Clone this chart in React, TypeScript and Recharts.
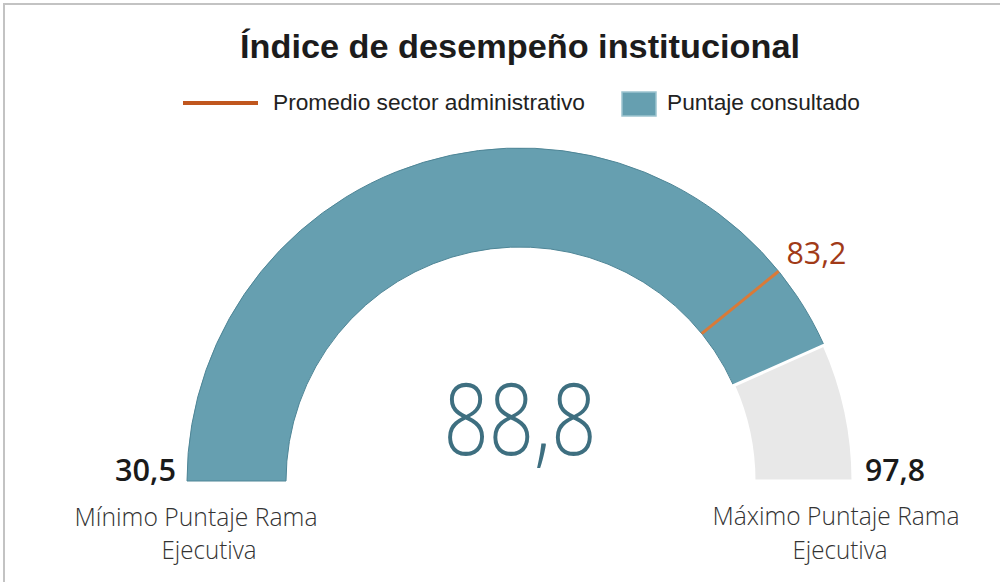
import { PieChart, Pie, Cell } from "recharts";

// gauge range and values
const minScore = 30.5;
const maxScore = 97.8;
const scores = [88.8]; // Puntaje consultado
const averages = [83.2]; // Promedio sector administrativo
const rangeLabels = ["Mínimo Puntaje Rama", "Máximo Puntaje Rama"];
const rangeSubLabel = "Ejecutiva";
const legendNames = ["Promedio sector administrativo", "Puntaje consultado"];
const title = "Índice de desempeño institucional";

const CX = 520;
const CY = 481;
const INNER = 234;
const OUTER = 333;
const RAD = Math.PI / 180;

const fmt = (v: number) => v.toFixed(1).replace(".", ",");

const gaugeData = [
  { name: legendNames[1], value: scores[0] - minScore },
  { name: "resto", value: maxScore - scores[0] },
];

const markerData = [
  { name: "below", value: averages[0] - minScore },
  { name: "above", value: maxScore - averages[0] },
];

const renderMarker = (props: any) => {
  if (props.index !== 1) return null;
  const { cx, cy, innerRadius, outerRadius, startAngle } = props;
  const c = Math.cos(-startAngle * RAD);
  const s = Math.sin(-startAngle * RAD);
  const lr = outerRadius + 10;
  return (
    <g>
      <line
        x1={cx + innerRadius * c}
        y1={cy + innerRadius * s}
        x2={cx + outerRadius * c}
        y2={cy + outerRadius * s}
        stroke="#d97a38"
        strokeWidth={3}
      />
      <text
        x={cx + lr * c}
        y={cy + lr * s - 1}
        fill="#a13a18"
        fontSize={31}
        fontFamily="'Open Sans', 'Noto Sans', sans-serif"
        textAnchor="start"
        textLength={60}
        lengthAdjust="spacingAndGlyphs"
      >
        {fmt(averages[0])}
      </text>
    </g>
  );
};

const sans = "'Liberation Sans', Arial, sans-serif";
const soft = "'Open Sans', 'Noto Sans', sans-serif";

export default function App() {
  return (
    <div
      style={{
        position: "absolute",
        left: 0,
        top: 0,
        width: 1000,
        height: 582,
        background: "#fff",
        overflow: "hidden",
      }}
    >
      <div
        style={{
          position: "absolute",
          left: 3,
          top: 3,
          width: 995,
          height: 600,
          borderTop: "2px solid #c3c3c3",
          borderLeft: "2px solid #c3c3c3",
          borderRight: "1px solid #e4e4e4",
        }}
      />
      <div style={{ position: "absolute", left: 0, top: 0 }}>
        <PieChart width={1000} height={582} margin={{ top: 0, right: 0, bottom: 0, left: 0 }}>
          <Pie
            data={gaugeData}
            dataKey="value"
            cx={CX}
            cy={CY}
            startAngle={180}
            endAngle={0}
            innerRadius={INNER}
            outerRadius={OUTER}
            isAnimationActive={false}
          >
            <Cell fill="#669fb0" stroke="#4e8596" strokeWidth={1} />
            <Cell fill="#e8e8e8" stroke="#ffffff" strokeWidth={3} />
          </Pie>
          <Pie
            data={markerData}
            dataKey="value"
            cx={CX}
            cy={CY}
            startAngle={180}
            endAngle={0}
            innerRadius={INNER}
            outerRadius={OUTER}
            fill="none"
            stroke="none"
            label={renderMarker}
            labelLine={false}
            isAnimationActive={false}
          />
        </PieChart>
      </div>
      <svg
        width={1000}
        height={582}
        style={{ position: "absolute", left: 0, top: 0, pointerEvents: "none" }}
      >
        <text
          x={520}
          y={58}
          textAnchor="middle"
          fontFamily={sans}
          fontWeight="bold"
          fontSize={34}
          fill="#1c1c1c"
          textLength={560}
          lengthAdjust="spacingAndGlyphs"
        >
          {title}
        </text>
        <line x1={183} y1={103} x2={258} y2={103} stroke="#c0561e" strokeWidth={4} />
        <text
          x={273}
          y={110}
          fontFamily={sans}
          fontSize={22.5}
          fill="#222"
          textLength={312}
          lengthAdjust="spacingAndGlyphs"
        >
          {legendNames[0]}
        </text>
        <rect x={622} y={92} width={34} height={24} fill="#669fb0" stroke="#9cc4cf" strokeWidth={1.5} />
        <text
          x={667}
          y={110}
          fontFamily={sans}
          fontSize={22.5}
          fill="#222"
          textLength={193}
          lengthAdjust="spacingAndGlyphs"
        >
          {legendNames[1]}
        </text>
        <text
          x={CX}
          y={455}
          textAnchor="middle"
          fontFamily={soft}
          fontWeight={300}
          fontSize={100}
          fill="#3e6f80"
          textLength={153}
          lengthAdjust="spacingAndGlyphs"
        >
          {fmt(scores[0])}
        </text>
        <text
          x={CX - OUTER - 11}
          y={CY}
          textAnchor="end"
          fontFamily={soft}
          fontWeight={600}
          fontSize={31}
          fill="#1a1a1a"
          textLength={61}
          lengthAdjust="spacingAndGlyphs"
        >
          {fmt(minScore)}
        </text>
        <text
          x={CX + OUTER + 12}
          y={CY}
          textAnchor="start"
          fontFamily={soft}
          fontWeight={600}
          fontSize={31}
          fill="#1a1a1a"
          textLength={60}
          lengthAdjust="spacingAndGlyphs"
        >
          {fmt(maxScore)}
        </text>
        <text
          x={196}
          y={526}
          textAnchor="middle"
          fontFamily={soft}
          fontWeight={300}
          fontSize={25}
          fill="#333"
          textLength={243}
          lengthAdjust="spacingAndGlyphs"
        >
          {rangeLabels[0]}
        </text>
        <text
          x={209}
          y={559}
          textAnchor="middle"
          fontFamily={soft}
          fontWeight={300}
          fontSize={25}
          fill="#333"
          textLength={95}
          lengthAdjust="spacingAndGlyphs"
        >
          {rangeSubLabel}
        </text>
        <text
          x={836}
          y={525}
          textAnchor="middle"
          fontFamily={soft}
          fontWeight={300}
          fontSize={25}
          fill="#333"
          textLength={247}
          lengthAdjust="spacingAndGlyphs"
        >
          {rangeLabels[1]}
        </text>
        <text
          x={840}
          y={559}
          textAnchor="middle"
          fontFamily={soft}
          fontWeight={300}
          fontSize={25}
          fill="#333"
          textLength={95}
          lengthAdjust="spacingAndGlyphs"
        >
          {rangeSubLabel}
        </text>
      </svg>
    </div>
  );
}
